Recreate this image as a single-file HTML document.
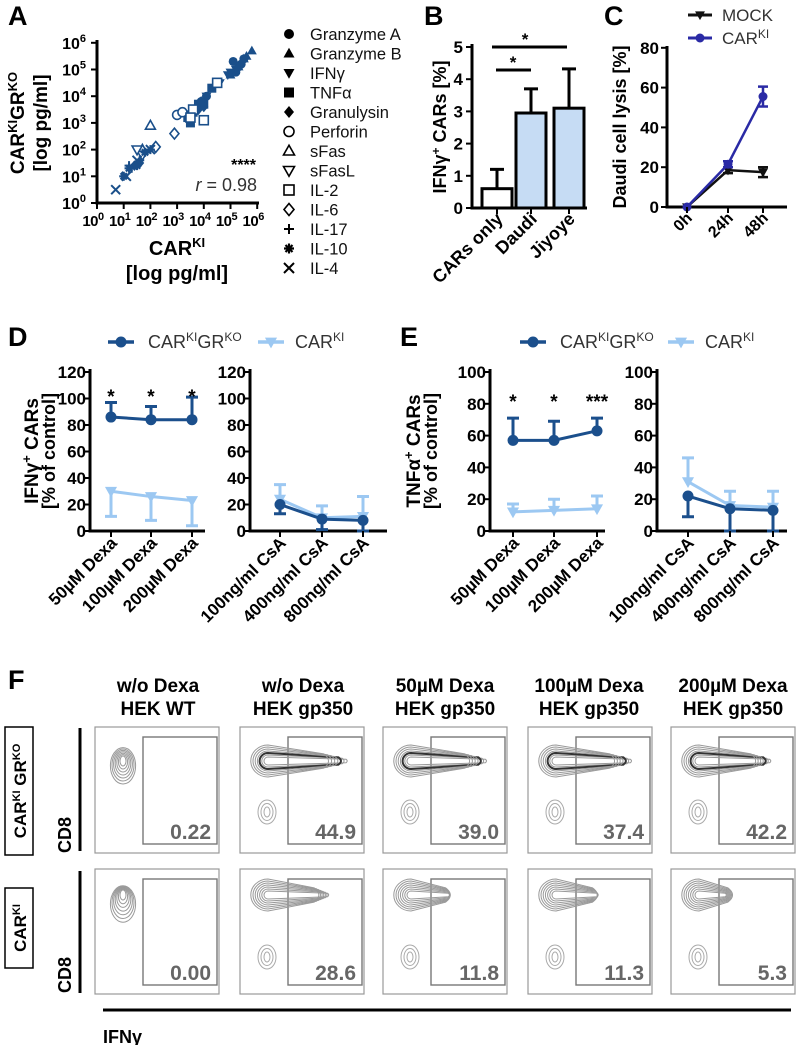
<!DOCTYPE html>
<html><head><meta charset="utf-8"><style>
html,body{margin:0;padding:0;background:#fff}
svg{display:block;font-family:"Liberation Sans",Arial,sans-serif}
</style></head><body>
<svg id="s" width="797" height="1045" viewBox="0 0 797 1045" xmlns="http://www.w3.org/2000/svg">
<g font-weight="bold" font-size="27" fill="#000">
<text x="8" y="25">A</text>
<text x="424" y="25">B</text>
<text x="604" y="25">C</text>
<text x="8" y="346">D</text>
<text x="400" y="346">E</text>
<text x="8" y="689">F</text>
</g>
</svg>
<script>
const NS="http://www.w3.org/2000/svg";
const svg=document.getElementById('s');
function el(t,a,p){const e=document.createElementNS(NS,t);for(const k in a)e.setAttribute(k,a[k]);(p||svg).appendChild(e);return e;}
function tx(x,y,s,a,p){const e=el('text',Object.assign({x:x,y:y},a||{}),p);e.textContent=s;return e;}

// ===== Panel A data (log10 pg/ml) =====
const aNames=["Granzyme A","Granzyme B","IFNγ","TNFα","Granulysin","Perforin","sFas","sFasL","IL-2","IL-6","IL-17","IL-10","IL-4"];
const aShapes=["cle","tri","itri","square","diamond","ocle","otri","oitri","osquare","odiamond","plus","star","x"];
const aX=[[5.1,5.3,5.5,5.2,5.4,4.1,3.9],[5.8,5.6,5.3,5.0,5.5],[4.9,5.2,5.0,4.1,4.6],[3.6,3.8,4.3,3.5,4.0,3.4],[3.9,4.0,3.8,1.6,3.5,1.4],[3.0,3.2],[2.0,1.7],[1.7,1.5],[3.6,4.5,3.5,4.0],[2.9,2.2],[1.3,1.6,2.0,1.2],[1.0,1.2,1.5,1.8],[0.7,1.1,2.0,1.5]];
const aY=[[5.3,5.1,5.4,4.9,5.2,4.0,3.8],[5.7,5.5,5.1,4.8,5.4],[4.8,5.0,4.9,4.0,4.5],[3.4,3.7,4.3,3.0,3.7,3.2],[3.8,3.6,3.5,1.5,3.4,1.4],[3.3,3.4],[2.9,2.0],[1.8,2.0],[3.5,4.5,3.2,3.1],[2.6,2.1],[1.3,1.6,2.0,1.4],[1.0,1.3,1.4,1.9],[0.5,1.0,2.0,1.6]];
// ===== Panel B =====
const bCats=["CARs only","Daudi","Jiyoye"];
const bVals=[0.6,2.95,3.1];
const bErr=[0.6,0.75,1.22];
// ===== Panel C =====
const cCats=["0h","24h","48h"];
const cMock=[0,18.5,17.5];
const cMockErr=[0,1.5,2.5];
const cCar=[0,21.5,55.5];
const cCarErr=[0,1.5,5];
// ===== Panels D/E =====
const dexaCats=["50µM Dexa","100µM Dexa","200µM Dexa"];
const csaCats=["100ng/ml CsA","400ng/ml CsA","800ng/ml CsA"];
const dDexaGR=[86,84,84], dDexaGRErr=[11,10,17];
const dDexaKI=[30,26,23], dDexaKIErr=[19,18,19];
const dCsaGR=[20,9,8], dCsaGRErr=[7,8,8];
const dCsaKI=[24,10,11], dCsaKIErr=[11,9,15];
const eDexaGR=[57,57,63], eDexaGRErr=[14,12,8];
const eDexaKI=[12,13,14], eDexaKIErr=[5,7,8];
const eCsaGR=[22,14,13], eCsaGRErr=[13,14,13];
const eCsaKI=[31,16,15], eCsaKIErr=[15,9,10];
// ===== Panel F =====
const fHead1=["w/o Dexa","w/o Dexa","50µM Dexa","100µM Dexa","200µM Dexa"];
const fHead2=["HEK WT","HEK gp350","HEK gp350","HEK gp350","HEK gp350"];
const fRow1=["0.22","44.9","39.0","37.4","42.2"];
const fRow2=["0.00","28.6","11.8","11.3","5.3"];
const fTail1=[0,1,0.95,0.95,0.9];
const fTail2=[0,0.75,0.45,0.5,0.3];

function marker(shape,x,y,r,col,p){
  const open=shape[0]==='o';
  const f=open?'#fff':col, sw=open?1.6:0;
  const s=open?shape.slice(1):shape;
  let e;
  if(s==='cle') e=el('circle',{cx:x,cy:y,r:r,fill:f,stroke:col,'stroke-width':sw},p);
  else if(s==='tri') e=el('polygon',{points:`${x},${y-r*1.15} ${x-r*1.1},${y+r*0.8} ${x+r*1.1},${y+r*0.8}`,fill:f,stroke:col,'stroke-width':sw},p);
  else if(s==='itri') e=el('polygon',{points:`${x},${y+r*1.15} ${x-r*1.1},${y-r*0.8} ${x+r*1.1},${y-r*0.8}`,fill:f,stroke:col,'stroke-width':sw},p);
  else if(s==='square') e=el('rect',{x:x-r,y:y-r,width:2*r,height:2*r,fill:f,stroke:col,'stroke-width':sw},p);
  else if(s==='diamond') e=el('polygon',{points:`${x},${y-r*1.2} ${x+r},${y} ${x},${y+r*1.2} ${x-r},${y}`,fill:f,stroke:col,'stroke-width':sw},p);
  else if(s==='plus') e=el('path',{d:`M${x-r},${y}H${x+r}M${x},${y-r}V${y+r}`,stroke:col,'stroke-width':2,fill:'none'},p);
  else if(s==='x') e=el('path',{d:`M${x-r},${y-r}L${x+r},${y+r}M${x-r},${y+r}L${x+r},${y-r}`,stroke:col,'stroke-width':2,fill:'none'},p);
  else e=el('path',{d:`M${x-r},${y}H${x+r}M${x},${y-r}V${y+r}M${x-r*.7},${y-r*.7}L${x+r*.7},${y+r*.7}M${x-r*.7},${y+r*.7}L${x+r*.7},${y-r*.7}`,stroke:col,'stroke-width':2.2,fill:'none'},p);
  return e;
}

// ===== Panel A =====
(function(){
  const g=el('g',{});
  const xA=v=>97+v*26.7, yA=v=>203-v*26.7;
  el('path',{d:`M97,40V203H259`,stroke:'#000','stroke-width':3,fill:'none'},g);
  for(let i=0;i<=6;i++){
    el('line',{x1:91,x2:97,y1:yA(i),y2:yA(i),stroke:'#000','stroke-width':2},g);
    el('line',{x1:xA(i),x2:xA(i),y1:203,y2:209,stroke:'#000','stroke-width':2},g);
    const t=tx(86,yA(i)+6,'10',{'text-anchor':'end','font-size':16,'font-weight':'bold'},g);
    const sp=el('tspan',{dy:-7,'font-size':11},t);sp.textContent=i;
    const t2=tx(xA(i)-4,226,'10',{'font-size':15,'font-weight':'bold','text-anchor':'middle','letter-spacing':-0.5},g);
    const sp2=el('tspan',{dy:-6,'font-size':11},t2);sp2.textContent=i;
  }
  const col='#1a4f8a';
  for(let k=0;k<aNames.length;k++){
    for(let j=0;j<aX[k].length;j++){
      const m=marker(aShapes[k],xA(aX[k][j]),yA(aY[k][j]),4.5,col,g);
      
      
    }
  }
  tx(256,170,'****',{'text-anchor':'end','font-size':16,'font-weight':'bold'},g);
  const r=tx(257,191,'',{'text-anchor':'end','font-size':18,fill:'#333'},g);
  const ri=el('tspan',{'font-style':'italic'},r);ri.textContent='r';
  const rr=el('tspan',{},r);rr.textContent=' = 0.98';
  const yt=el('text',{transform:'translate(24,123) rotate(-90)','text-anchor':'middle','font-size':19,'font-weight':'bold'},g);
  yt.innerHTML='CAR<tspan dy="-7" font-size="13">KI</tspan><tspan dy="7">GR</tspan><tspan dy="-7" font-size="13">KO</tspan>';
  tx(0,0,'[log pg/ml]',{transform:'translate(47,123) rotate(-90)','text-anchor':'middle','font-size':19,'font-weight':'bold'},g);
  const xt=el('text',{x:177,y:255,'text-anchor':'middle','font-size':20,'font-weight':'bold'},g);
  xt.innerHTML='CAR<tspan dy="-8" font-size="13">KI</tspan>';
  tx(177,280,'[log pg/ml]',{'text-anchor':'middle','font-size':20,'font-weight':'bold'},g);
  for(let k=0;k<aNames.length;k++){
    const y=34+k*19.5;
    const m=marker(aShapes[k],289,y,5,'#000',g);
    
    
    const t=tx(310,y+6,aNames[k],{'font-size':16.5,fill:'#111'},g);
    
    
  }
})();

// ===== Panel B =====
(function(){
  const g=el('g',{});
  const y=v=>208-v*32.2;
  const cx=[497,531,569];
  el('path',{d:'M472,44V208H587',stroke:'#000','stroke-width':3,fill:'none'},g);
  for(let i=0;i<=5;i++){el('line',{x1:466,x2:472,y1:y(i),y2:y(i),stroke:'#000','stroke-width':2},g);tx(463,y(i)+6,String(i),{'text-anchor':'end','font-size':17,'font-weight':'bold'},g);}
  for(let i=0;i<3;i++){
    el('line',{x1:cx[i],x2:cx[i],y1:y(bVals[i]),y2:y(bVals[i]+bErr[i]),stroke:'#000','stroke-width':3},g);
    el('line',{x1:cx[i]-7,x2:cx[i]+7,y1:y(bVals[i]+bErr[i]),y2:y(bVals[i]+bErr[i]),stroke:'#000','stroke-width':3},g);
    const r=el('rect',{x:cx[i]-15,y:y(bVals[i]),width:30,height:208-y(bVals[i]),fill:i?'#c6dcf4':'#fff',stroke:'#000','stroke-width':3},g);
    
    
    el('line',{x1:cx[i],x2:cx[i],y1:208,y2:214,stroke:'#000','stroke-width':2},g);
    tx(0,0,bCats[i],{transform:`translate(${cx[i]+7},220) rotate(-45)`,'text-anchor':'end','font-size':18,'font-weight':'bold'},g);
  }
  el('line',{x1:492,x2:567,y1:47,y2:47,stroke:'#000','stroke-width':3},g);
  tx(525,45,'*',{'text-anchor':'middle','font-size':17,'font-weight':'bold'},g);
  el('line',{x1:496,x2:531,y1:70,y2:70,stroke:'#000','stroke-width':3},g);
  tx(513,68,'*',{'text-anchor':'middle','font-size':17,'font-weight':'bold'},g);
  const yt=el('text',{transform:'translate(446,127) rotate(-90)','text-anchor':'middle','font-size':18,'font-weight':'bold'},g);
  yt.innerHTML='IFNγ<tspan dy="-6" font-size="12">+</tspan><tspan dy="6"> CARs [%]</tspan>';
})();

// ===== Panel C =====
(function(){
  const g=el('g',{});
  const y=v=>207-v*1.99;
  const cx=[687,728,763];
  el('path',{d:'M667,46V207H787',stroke:'#000','stroke-width':3,fill:'none'},g);
  for(let i=0;i<=4;i++){el('line',{x1:661,x2:667,y1:y(i*20),y2:y(i*20),stroke:'#000','stroke-width':2},g);tx(659,y(i*20)+6,String(i*20),{'text-anchor':'end','font-size':17,'font-weight':'bold'},g);}
  function series(v,e,col,sh,nm){
    const s=el('g',{},g);
    el('polyline',{points:v.map((d,i)=>cx[i]+','+y(d)).join(' '),fill:'none',stroke:col,'stroke-width':2.5},s);
    v.forEach((d,i)=>{if(e[i]){el('path',{d:`M${cx[i]},${y(d-e[i])}V${y(d+e[i])}M${cx[i]-5},${y(d-e[i])}h10M${cx[i]-5},${y(d+e[i])}h10`,stroke:col,'stroke-width':2.5},s);}marker(sh,cx[i],y(d),4.5,col,s);});
  }
  series(cMock,cMockErr,'#111','itri','series-mock');
  series(cCar,cCarErr,'#2a2aa5','cle','series-carki');
  cCats.forEach((c,i)=>{el('line',{x1:cx[i],x2:cx[i],y1:207,y2:213,stroke:'#000','stroke-width':2},g);tx(0,0,c,{transform:`translate(${cx[i]+6},219) rotate(-45)`,'text-anchor':'end','font-size':16,'font-weight':'bold'},g);});
  tx(0,0,'Daudi cell lysis [%]',{transform:'translate(626,127) rotate(-90)','text-anchor':'middle','font-size':18,'font-weight':'bold'},g);
  el('line',{x1:688,x2:712,y1:15,y2:15,stroke:'#111','stroke-width':3},g);marker('itri',700,15,4.5,'#111',g);
  tx(722,21,'MOCK',{'font-size':17,fill:'#333'},g);
  el('line',{x1:688,x2:712,y1:38,y2:38,stroke:'#2a2aa5','stroke-width':3},g);marker('cle',700,38,4.5,'#2a2aa5',g);
  const l=tx(722,44,'CAR',{'font-size':17,fill:'#333'},g);const sp=el('tspan',{dy:-6,'font-size':12},l);sp.textContent='KI';
})();

// ===== Panels D/E =====
const DARK='#1b4f8c', LIGHT='#9cc8f2';
function subplot(g,ax,right,ymax,step,cx,cats,gr,grE,grDir,ki,kiE,kiDir,stars){
  const y=v=>531-v*(159/ymax);
  el('path',{d:`M${ax},${y(ymax)-3}V531H${right}`,stroke:'#000','stroke-width':3,fill:'none'},g);
  for(let v=0;v<=ymax;v+=step){el('line',{x1:ax-6,x2:ax,y1:y(v),y2:y(v),stroke:'#000','stroke-width':2},g);tx(ax-4,y(v)+6,String(v),{'text-anchor':'end','font-size':17,'font-weight':'bold'},g);}
  function series(v,e,dir,col,sh,nm){
    const s=el('g',{},g);
    el('polyline',{points:v.map((d,i)=>cx[i]+','+y(d)).join(' '),fill:'none',stroke:col,'stroke-width':3},s);
    v.forEach((d,i)=>{const ye=y(Math.max(0,d+dir[i]*e[i]));el('path',{d:`M${cx[i]},${y(d)}V${ye}M${cx[i]-6},${ye}h12`,stroke:col,'stroke-width':3},s);marker(sh,cx[i],y(d),5.5,col,s);});
  }
  series(ki,kiE,kiDir,LIGHT,'itri','series-carki');
  series(gr,grE,grDir,DARK,'cle','series-carki-grko');
  cats.forEach((c,i)=>{el('line',{x1:cx[i],x2:cx[i],y1:531,y2:537,stroke:'#000','stroke-width':2},g);tx(0,0,c,{transform:`translate(${cx[i]+7},544) rotate(-45)`,'text-anchor':'end','font-size':17,'font-weight':'bold'},g);});
  if(stars)stars.forEach((s,i)=>tx(cx[i],y(ymax)+(ymax===120?31:36),s,{'text-anchor':'middle','font-size':19,'font-weight':'bold'},g));
}
function legend(g,x1,x2){
  el('line',{x1:x1,x2:x1+26,y1:342,y2:342,stroke:DARK,'stroke-width':3.5},g);marker('cle',x1+13,342,5.5,DARK,g);
  const t=el('text',{x:x1+40,y:348,'font-size':18,fill:'#333'},g);t.innerHTML='CAR<tspan dy="-7" font-size="12">KI</tspan><tspan dy="7">GR</tspan><tspan dy="-7" font-size="12">KO</tspan>';
  el('line',{x1:x2,x2:x2+26,y1:342,y2:342,stroke:LIGHT,'stroke-width':3.5},g);marker('itri',x2+13,342,5.5,LIGHT,g);
  const t2=el('text',{x:x2+37,y:348,'font-size':18,fill:'#333'},g);t2.innerHTML='CAR<tspan dy="-7" font-size="12">KI</tspan>';
}
(function(){
  const g=el('g',{});
  legend(g,108,258);
  subplot(g,90,205,120,20,[111,151,192],dexaCats,dDexaGR,dDexaGRErr,[1,1,1],dDexaKI,dDexaKIErr,[-1,-1,-1],['*','*','*']);
  subplot(g,250,387,120,20,[280,322,363],csaCats,dCsaGR,dCsaGRErr,[-1,-1,-1],dCsaKI,dCsaKIErr,[1,1,1],null);
  const yt=el('text',{transform:'translate(38,451) rotate(-90)','text-anchor':'middle','font-size':19,'font-weight':'bold'},g);
  yt.innerHTML='IFNγ<tspan dy="-7" font-size="13">+</tspan><tspan dy="7"> CARs</tspan>';
  tx(0,0,'[% of control]',{transform:'translate(55,451) rotate(-90)','text-anchor':'middle','font-size':18,'font-weight':'bold'},g);
})();
(function(){
  const g=el('g',{});
  legend(g,520,668);
  subplot(g,490,605,100,20,[513,554,597],dexaCats,eDexaGR,eDexaGRErr,[1,1,1],eDexaKI,eDexaKIErr,[1,1,1],['*','*','***']);
  subplot(g,657,787,100,20,[688,730,773],csaCats,eCsaGR,eCsaGRErr,[-1,-1,-1],eCsaKI,eCsaKIErr,[1,1,1],null);
  const yt=el('text',{transform:'translate(420,451) rotate(-90)','text-anchor':'middle','font-size':19,'font-weight':'bold'},g);
  yt.innerHTML='TNFα<tspan dy="-7" font-size="13">+</tspan><tspan dy="7"> CARs</tspan>';
  tx(0,0,'[% of control]',{transform:'translate(437,451) rotate(-90)','text-anchor':'middle','font-size':18,'font-weight':'bold'},g);
})();

// ===== Panel F =====
(function(){
  const g=el('g',{});
  const bx=[95,240,383,528,671], rows=[[727,853],[869,994]];
  const hc=[158,303,445,589,733];
  for(let i=0;i<5;i++){
    tx(hc[i],692,fHead1[i],{'text-anchor':'middle','font-size':19,'font-weight':'bold'},g);
    tx(hc[i],715,fHead2[i],{'text-anchor':'middle','font-size':19,'font-weight':'bold'},g);
  }
  [fRow1,fRow2].forEach((vals,r)=>{
    const tails=r?fTail2:fTail1;
    for(let i=0;i<5;i++){
      const x0=bx[i],y0=rows[r][0],y1=rows[r][1];
      const p=el('g',{},g);
      el('rect',{x:x0,y:y0,width:124,height:y1-y0,fill:'#fff',stroke:'#999','stroke-width':1.2},p);
      el('rect',{x:x0+48,y:y0+10,width:74,height:y1-y0-19,fill:'none',stroke:'#777','stroke-width':1.4},p);
      const cxp=x0+28, cyp=y0+(r?26:34);
      const tl=tails[i]*74;
      for(let k=0;k<7;k++){
        const rx=4+k*2.2, ry=4+k*2;
        const ext=tl*(1-k*0.08);
        const c=k===2&&r===0&&i>0?'#333':'#999', w=k===2&&r===0&&i>0?2:1;
        if(tl>0) el('path',{d:`M${cxp},${cyp-ry} L${cxp+rx+ext},${cyp-ry*0.45} Q${cxp+rx+ext+ry*0.6},${cyp} ${cxp+rx+ext},${cyp+ry*0.45} L${cxp},${cyp+ry} A${rx},${ry} 0 0 1 ${cxp},${cyp-ry}Z`,fill:'none',stroke:c,'stroke-width':w},p);
        else el('ellipse',{cx:cxp,cy:cyp+(r?k*1.5:k*0.8),rx:3+k*1.6,ry:5+k*2.2,fill:'none',stroke:'#999','stroke-width':1},p);
      }
      if(i>0){for(let k=0;k<3;k++)el('ellipse',{cx:x0+27,cy:y0+(r?88:85),rx:3+k*3,ry:5+k*3.5,fill:'none',stroke:'#aaa','stroke-width':1},p);}
      const t=tx(x0+116,y1-14,vals[i],{'text-anchor':'end','font-size':21,'font-weight':'bold',fill:'#666'},p);
      
      
    }
  });
  el('rect',{x:5,y:727,width:28,height:128,fill:'#fff',stroke:'#000','stroke-width':1.5},g);
  const r1=el('text',{transform:'translate(26,791) rotate(-90)','text-anchor':'middle','font-size':17,'font-weight':'bold'},g);
  r1.innerHTML='CAR<tspan dy="-6" font-size="11">KI</tspan><tspan dy="6"> GR</tspan><tspan dy="-6" font-size="11">KO</tspan>';
  el('rect',{x:5,y:888,width:28,height:80,fill:'#fff',stroke:'#000','stroke-width':1.5},g);
  const r2=el('text',{transform:'translate(26,928) rotate(-90)','text-anchor':'middle','font-size':17,'font-weight':'bold'},g);
  r2.innerHTML='CAR<tspan dy="-6" font-size="11">KI</tspan>';
  el('line',{x1:80,x2:80,y1:728,y2:851,stroke:'#000','stroke-width':3},g);
  el('line',{x1:80,x2:80,y1:871,y2:993,stroke:'#000','stroke-width':3},g);
  tx(0,0,'CD8',{transform:'translate(71,835) rotate(-90)','text-anchor':'middle','font-size':18,'font-weight':'bold'},g);
  tx(0,0,'CD8',{transform:'translate(71,975) rotate(-90)','text-anchor':'middle','font-size':18,'font-weight':'bold'},g);
  el('line',{x1:103,x2:791,y1:1010,y2:1010,stroke:'#000','stroke-width':3},g);
  tx(103,1043,'IFNγ',{'font-size':18,'font-weight':'bold'},g);
})();
</script>
</body></html>
